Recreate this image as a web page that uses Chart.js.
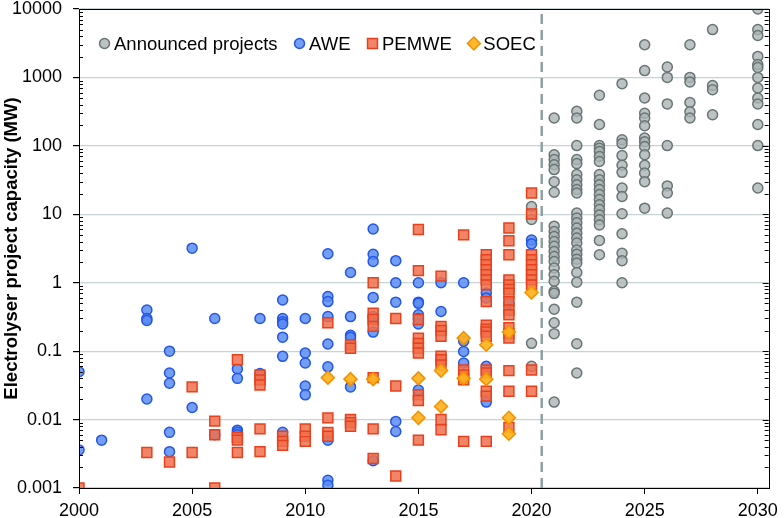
<!DOCTYPE html>
<html>
<head>
<meta charset="utf-8">
<script src="https://cdn.jsdelivr.net/npm/chart.js@4.4.0/dist/chart.umd.min.js"></script>
<style>
html, body { margin: 0; padding: 0; background: #fff; }
</style>
</head>
<body>
<canvas id="chart" width="784" height="518"></canvas>
<script>
// values, grouped per year: [year, [MW, MW, ...]]
const announced = [
    [2020, [13, 8.4, 0.13, 0.06]],
    [2021, [255, 74, 63, 53, 45, 30, 21, 6.7, 5.6, 4.75, 4.0, 3.4, 2.87, 2.42, 2.05, 1.64, 1.31, 1.05, 0.75, 0.7, 0.41, 0.26, 0.18, 0.018]],
    [2022, [320, 255, 101, 63, 55, 38, 32, 27, 23, 20.5, 10.4, 8.8, 7.5, 6.3, 5.3, 4.5, 3.8, 3.0, 2.6, 2.2, 1.94, 1.41, 1.02, 0.52, 0.128, 0.048]],
    [2023, [550, 205, 101, 92, 83, 70, 59, 38, 32, 27, 23, 19.4, 16.4, 13.8, 11.7, 9.8, 8.3, 7.0, 4.15, 2.56]],
    [2024, [810, 123, 108, 72, 52, 41, 24.2, 18.2, 10.2, 5.2, 2.7, 2.1, 1.0]],
    [2025, [3000, 1260, 500, 300, 255, 197, 130, 115, 98, 74, 52, 40, 30, 12.3]],
    [2026, [1420, 1000, 410, 101, 26, 20.5, 10.4]],
    [2027, [3000, 1000, 860, 430, 315, 255]],
    [2028, [5000, 760, 660, 285]],
    [2030, [10000, 5000, 4100, 2030, 1540, 1400, 1000, 700, 500, 410, 205, 101, 24.2]]
];
const awe = [
    [2000, [0.05, 0.0036]],
    [2001, [0.005]],
    [2003, [0.4, 0.3, 0.28, 0.02]],
    [2004, [0.1, 0.048, 0.034, 0.0065, 0.0034]],
    [2005, [3.2, 0.015]],
    [2006, [0.3, 0.006]],
    [2007, [0.055, 0.04, 0.007, 0.0065, 0.006]],
    [2008, [0.3, 0.047]],
    [2009, [0.56, 0.3, 0.27, 0.25, 0.16, 0.084, 0.0065]],
    [2010, [0.3, 0.094, 0.067, 0.031, 0.023]],
    [2011, [2.65, 0.63, 0.53, 0.32, 0.127, 0.059, 0.005, 0.0013, 0.0011]],
    [2012, [1.41, 0.32, 0.17, 0.16, 0.03]],
    [2013, [6.1, 2.6, 2.05, 0.61, 0.32, 0.29, 0.19, 0.0025]],
    [2014, [2.1, 1.0, 0.52, 0.0094, 0.0067]],
    [2015, [1.0, 0.52, 0.5, 0.34, 0.3, 0.25, 0.027]],
    [2016, [1.0, 0.38]],
    [2017, [1.0, 0.14, 0.099, 0.067]],
    [2018, [0.71, 0.6, 0.06, 0.018]],
    [2019, [0.5]],
    [2020, [4.2, 3.7]]
];
const pemwe = [
    [2000, [0.001]],
    [2003, [0.0033]],
    [2004, [0.0024]],
    [2005, [0.03, 0.0033]],
    [2006, [0.0095, 0.006, 0.001]],
    [2007, [0.075, 0.0055, 0.005, 0.0033]],
    [2008, [0.045, 0.038, 0.032, 0.0073, 0.0034]],
    [2009, [0.0057, 0.0048, 0.0042]],
    [2010, [0.0073, 0.0057, 0.0048]],
    [2011, [0.26, 0.0106, 0.0065, 0.0057]],
    [2012, [0.124, 0.11, 0.01, 0.009, 0.008]],
    [2013, [1.0, 0.36, 0.29, 0.23, 0.041, 0.0073, 0.0027]],
    [2014, [0.3, 0.031, 0.0015]],
    [2015, [6.0, 1.5, 0.29, 0.155, 0.13, 0.11, 0.094, 0.023, 0.019, 0.005]],
    [2016, [1.25, 0.23, 0.2, 0.165, 0.084, 0.075, 0.063, 0.01, 0.0071]],
    [2017, [5.0, 0.053, 0.045, 0.038, 0.0048]],
    [2018, [2.56, 2.17, 1.83, 1.55, 1.31, 1.1, 0.93, 0.53, 0.24, 0.21, 0.19, 0.165, 0.053, 0.048, 0.026, 0.022, 0.0048]],
    [2019, [6.3, 4.1, 2.56, 1.1, 0.93, 0.8, 0.7, 0.53, 0.4, 0.34, 0.22, 0.18, 0.155, 0.052, 0.026, 0.0077]],
    [2020, [20.5, 10.1, 2.56, 2.17, 1.83, 1.55, 1.31, 1.1, 0.93, 0.053, 0.026]]
];
const soec = [
    [2011, [0.041]],
    [2012, [0.039]],
    [2013, [0.039]],
    [2015, [0.04, 0.0106]],
    [2016, [0.052, 0.0155]],
    [2017, [0.155, 0.04]],
    [2018, [0.124, 0.039]],
    [2019, [0.19, 0.0106, 0.0062]],
    [2020, [0.72]]
];
const seriesNames = ["Announced projects", "AWE", "PEMWE", "SOEC"];
const xTicks = [2000, 2005, 2010, 2015, 2020, 2025, 2030];
const yTicks = [0.001, 0.01, 0.1, 1, 10, 100, 1000, 10000];
const cutoffYear = 2020.45;
const yTitle = "Electrolyser project capacity (MW)";

const FONT = "'Liberation Sans', Arial, sans-serif";

const styles = [
    { shape: "circle", r: 5, fill: "rgba(172,180,180,0.8)", line: "#677575" },
    { shape: "circle", r: 5, fill: "rgba(92,140,242,0.85)", line: "#2457e6" },
    { shape: "rect", r: 7, fill: "rgba(240,112,76,0.85)", line: "#e8401c" },
    { shape: "rectRot", r: 6.5, fill: "rgba(255,178,30,0.92)", line: "#f29000" }
];

function toPoints(list) {
    const pts = [];
    list.forEach(([yr, vals]) => vals.forEach(v => pts.push({ x: yr, y: v })));
    return pts;
}

function markerDataset(label, list, st, order) {
    return {
        label: label,
        data: toPoints(list),
        pointStyle: st.shape,
        pointRadius: st.r,
        pointBackgroundColor: st.fill,
        pointBorderColor: st.line,
        pointBorderWidth: 1.5,
        order: order
    };
}

function drawMarker(ctx, st, x, y) {
    ctx.beginPath();
    if (st.shape === "circle") {
        ctx.arc(x, y, st.r, 0, Math.PI * 2);
    } else if (st.shape === "rect") {
        const h = st.r * Math.SQRT1_2;
        ctx.rect(x - h, y - h, 2 * h, 2 * h);
    } else {
        ctx.moveTo(x, y - st.r);
        ctx.lineTo(x + st.r, y);
        ctx.lineTo(x, y + st.r);
        ctx.lineTo(x - st.r, y);
        ctx.closePath();
    }
    ctx.fillStyle = st.fill;
    ctx.fill();
    ctx.lineWidth = 1.5;
    ctx.strokeStyle = st.line;
    ctx.stroke();
}

// box round the plot and the small log ticks on both sides
const framePlugin = {
    id: "frame",
    afterDatasetsDraw(chart) {
        const ctx = chart.ctx;
        const a = chart.chartArea;
        const ys = chart.scales.y;
        ctx.save();
        ctx.strokeStyle = "#000";
        ctx.lineWidth = 1;
        ctx.beginPath();
        for (let e = -3; e < 4; e++) {
            for (let m = 2; m < 10; m++) {
                const py = Math.round(ys.getPixelForValue(m * Math.pow(10, e))) + 0.5;
                ctx.moveTo(a.left, py); ctx.lineTo(a.left + 4, py);
                ctx.moveTo(a.right - 4, py); ctx.lineTo(a.right, py);
            }
        }
        yTicks.forEach(v => {
            const py = Math.round(ys.getPixelForValue(v)) + 0.5;
            ctx.moveTo(a.right - 6, py); ctx.lineTo(a.right, py);
        });
        ctx.stroke();
        ctx.strokeRect(Math.round(a.left) + 0.5, Math.round(a.top) + 0.5,
            Math.round(a.right - a.left), Math.round(a.bottom - a.top));
        ctx.restore();
    }
};

const legendPlugin = {
    id: "insideLegend",
    afterDraw(chart) {
        const ctx = chart.ctx;
        let x = chart.chartArea.left + 25.5;
        const y = chart.chartArea.top + 34.5;
        ctx.save();
        ctx.font = "18.5px " + FONT;
        ctx.textBaseline = "middle";
        seriesNames.forEach((name, i) => {
            drawMarker(ctx, styles[i], x, y);
            ctx.fillStyle = "#000";
            ctx.fillText(name, x + 9.5, y + 1);
            x += 9.5 + ctx.measureText(name).width + 22;
        });
        ctx.restore();
    }
};

new Chart("chart", {
    type: "scatter",
    data: {
        datasets: [
            {
                type: "line",
                label: "cutoff",
                data: [{ x: cutoffYear, y: 0.001 }, { x: cutoffYear, y: 10000 }],
                showLine: true,
                borderColor: "#8fa0a0",
                borderWidth: 2.5,
                borderDash: [10, 6],
                pointRadius: 0,
                fill: false,
                order: 10
            },
            markerDataset(seriesNames[0], announced, styles[0], 4),
            markerDataset(seriesNames[1], awe, styles[1], 3),
            markerDataset(seriesNames[2], pemwe, styles[2], 2),
            markerDataset(seriesNames[3], soec, styles[3], 1)
        ]
    },
    options: {
        responsive: false,
        animation: false,
        devicePixelRatio: 1,
        layout: { padding: { top: 9, right: 11, left: 0, bottom: 0 } },
        plugins: {
            legend: { display: false },
            tooltip: { enabled: false }
        },
        scales: {
            x: {
                type: "linear",
                min: 2000,
                max: 2030.48,
                afterBuildTicks: s => { s.ticks = xTicks.map(v => ({ value: v })); },
                afterFit: s => { s.height = 30; },
                grid: { drawOnChartArea: false, drawTicks: true, tickLength: 6, tickColor: "#000" },
                border: { display: true, color: "#000", width: 1 },
                ticks: {
                    color: "#000",
                    font: { family: FONT, size: 18 },
                    padding: 6,
                    maxRotation: 0,
                    callback: v => String(v)
                }
            },
            y: {
                type: "logarithmic",
                min: 0.001,
                max: 10000,
                afterBuildTicks: s => { s.ticks = yTicks.map(v => ({ value: v })); },
                afterFit: s => { s.width = 79; s.paddingTop = 0; s.paddingBottom = 0; },
                grid: { color: "#c8d3d3", lineWidth: 1.2, drawTicks: true, tickLength: 6, tickColor: "#000" },
                border: { display: true, color: "#000", width: 1 },
                ticks: {
                    color: "#000",
                    font: { family: FONT, size: 18, lineHeight: 1 },
                    padding: 11,
                    callback: v => String(v)
                },
                title: {
                    display: true,
                    text: yTitle,
                    color: "#000",
                    font: { family: FONT, size: 18.5, weight: "bold" },
                    padding: { top: 1, bottom: 0 }
                }
            }
        }
    },
    plugins: [framePlugin, legendPlugin]
});
</script>
</body>
</html>
